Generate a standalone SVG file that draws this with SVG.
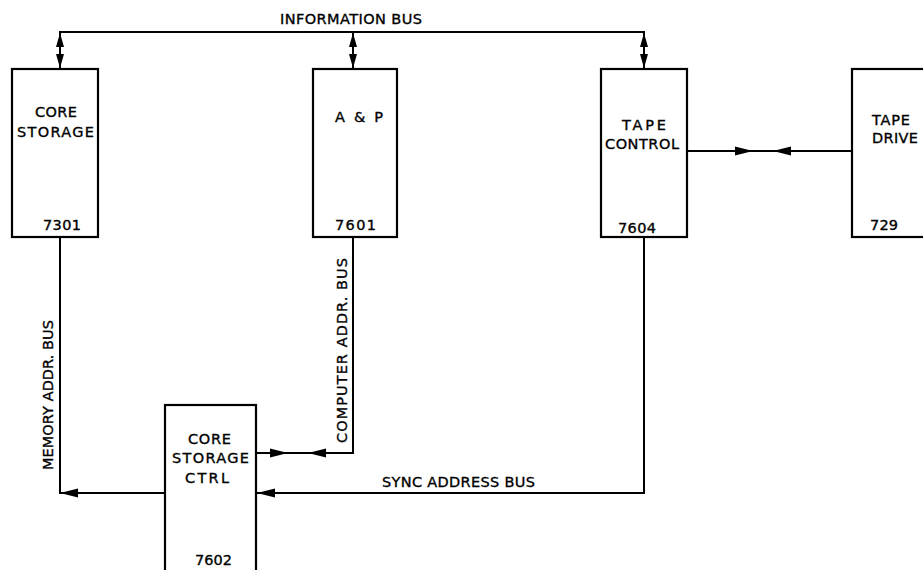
<svg xmlns="http://www.w3.org/2000/svg" width="923" height="570" viewBox="0 0 923 570">
<style>
.box{fill:#fff;stroke:#000;stroke-width:2.2}
.ln{fill:none;stroke:#000;stroke-width:2}
.ah{fill:#000;stroke:none}
text{font-family:"DejaVu Sans","Liberation Sans",sans-serif;font-size:14.5px;fill:#000;stroke:#000;stroke-width:0.35}
</style>
<defs>
<path id="aL" d="M0,0 L18,-4.5 L18,4.5 Z"/>
<path id="aS" d="M0,0 L14,-4 L14,4 Z"/>
</defs>
<rect width="923" height="570" fill="#fff"/>
<g id="connectors">
<path class="ln" d="M60,69 V32 H644 V69"/>
<path class="ln" d="M353,32 V69"/>
<g class="ah">
<use href="#aS" transform="translate(60,33) rotate(90)"/>
<use href="#aS" transform="translate(60,68) rotate(-90)"/>
<use href="#aS" transform="translate(353,33) rotate(90)"/>
<use href="#aS" transform="translate(353,68) rotate(-90)"/>
<use href="#aS" transform="translate(644,33) rotate(90)"/>
<use href="#aS" transform="translate(644,68) rotate(-90)"/>
</g>
<path class="ln" d="M687,151 H852"/>
<g class="ah">
<use href="#aL" transform="translate(753,151) rotate(180)"/>
<use href="#aL" transform="translate(773,151)"/>
</g>
<path class="ln" d="M60,237 V493 H165"/>
<use class="ah" href="#aL" transform="translate(60,493)"/>
<path class="ln" d="M353,237 V453 H256"/>
<g class="ah">
<use href="#aL" transform="translate(288,453) rotate(180)"/>
<use href="#aL" transform="translate(308,453)"/>
</g>
<path class="ln" d="M644,237 V493 H256"/>
<use class="ah" href="#aL" transform="translate(257,493)"/>
<text x="280" y="24" textLength="142" lengthAdjust="spacing">INFORMATION BUS</text>
<text x="382" y="487" textLength="153" lengthAdjust="spacing">SYNC ADDRESS BUS</text>
<text transform="translate(53,470) rotate(-90)" textLength="150" lengthAdjust="spacing">MEMORY ADDR. BUS</text>
<text transform="translate(347,443) rotate(-90)" textLength="185" lengthAdjust="spacing">COMPUTER ADDR. BUS</text>
</g>
<g id="core-storage">
<rect class="box" x="12" y="69" width="86" height="168"/>
<text x="35" y="117" textLength="42" lengthAdjust="spacing">CORE</text>
<text x="17" y="137" textLength="77" lengthAdjust="spacing">STORAGE</text>
<text x="43" y="230" textLength="38" lengthAdjust="spacing">7301</text>
</g>
<g id="a-and-p">
<rect class="box" x="313" y="69" width="84" height="168"/>
<text x="335" y="122" textLength="48" lengthAdjust="spacing">A &amp; P</text>
<text x="335" y="230" textLength="41" lengthAdjust="spacing">7601</text>
</g>
<g id="tape-control">
<rect class="box" x="601" y="69" width="86" height="168"/>
<text x="622" y="130" textLength="44" lengthAdjust="spacing">TAPE</text>
<text x="605" y="149" textLength="74" lengthAdjust="spacing">CONTROL</text>
<text x="618" y="233" textLength="38" lengthAdjust="spacing">7604</text>
</g>
<g id="tape-drive">
<rect class="box" x="852" y="69" width="90" height="168"/>
<text x="872" y="125" textLength="38" lengthAdjust="spacing">TAPE</text>
<text x="872" y="143" textLength="46" lengthAdjust="spacing">DRIVE</text>
<text x="870" y="230" textLength="28" lengthAdjust="spacing">729</text>
</g>
<g id="core-storage-ctrl">
<rect class="box" x="165" y="405" width="91" height="180"/>
<text x="188" y="444" textLength="43" lengthAdjust="spacing">CORE</text>
<text x="172" y="463" textLength="77" lengthAdjust="spacing">STORAGE</text>
<text x="185" y="483" textLength="44" lengthAdjust="spacing">CTRL</text>
<text x="195" y="565" textLength="37" lengthAdjust="spacing">7602</text>
</g>
</svg>
